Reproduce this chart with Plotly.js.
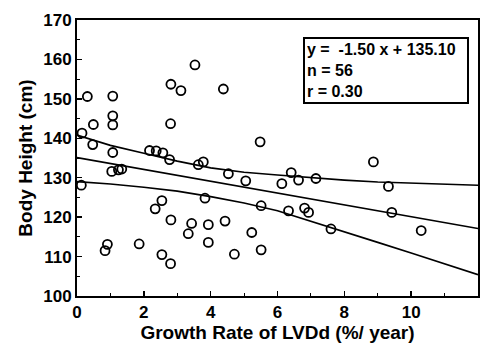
<!DOCTYPE html>
<html>
<head>
<meta charset="utf-8">
<script src="https://cdn.plot.ly/plotly-3.0.1.min.js"></script>
<style>html,body{margin:0;padding:0;background:#fff;}#chart{width:486px;height:349px;}</style>
</head>
<body>
<div id="chart"></div>
<script>
// Scatter data: growth rate of LVDd (%/year) vs body height (cm)
var growthRate = [0.13,0.15,0.31,0.49,0.47,1.07,1.07,1.07,1.07,3.53,2.81,3.11,2.80,2.17,2.37,2.57,2.77,1.04,1.24,3.83,3.63,3.78,2.54,2.34,2.81,3.43,3.33,3.93,3.93,0.91,0.84,1.86,2.54,2.80,4.53,5.05,6.13,6.41,6.63,7.15,5.51,6.33,6.81,6.93,7.60,4.43,5.23,4.71,5.51,4.38,5.48,8.87,9.32,9.42,10.30,1.34];
var bodyHeight = [128.1,141.3,150.6,143.5,138.4,150.7,145.7,143.4,136.4,158.6,153.7,152.1,143.7,136.9,136.8,136.3,134.6,131.6,132.0,124.8,133.3,134.0,124.2,122.1,119.3,118.4,115.8,118.1,113.6,113.1,111.5,113.2,110.5,108.2,131.0,129.2,128.5,131.3,129.4,129.8,122.9,121.6,122.3,121.2,117.0,119.0,116.1,110.6,111.7,152.5,139.1,134.0,127.8,121.2,116.6,132.2];

// Regression line endpoints (y = -1.50 x + 135.10)
var fitX = [0, 12];
var fitY = [135.1, 117.1];

// Confidence band curves
var bandX = [0,1,2,3,4,5,6,7,8,9,10,11,12];
var bandUpper = [140.8,138.2,136.2,134.2,132.5,131.4,130.7,130.0,129.4,128.9,128.6,128.3,128.1];
var bandLower = [129.0,128.4,127.6,126.6,125.2,123.6,121.6,119.0,116.3,113.6,110.9,108.2,105.4];

var xTicks = [0,2,4,6,8,10,12];
var yTicks = [100,110,120,130,140,150,160,170];
var statsLines = ['y =  -1.50 x + 135.10', 'n = 56', 'r = 0.30'];

var fontFam = 'Liberation Sans, Arial, Helvetica, sans-serif';
var lineStyle = {color: '#000', width: 1.6};

var traces = [
  {x: bandX, y: bandUpper, mode: 'lines', line: lineStyle, hoverinfo: 'skip', type: 'scatter'},
  {x: fitX, y: fitY, mode: 'lines', line: lineStyle, hoverinfo: 'skip', type: 'scatter'},
  {x: bandX, y: bandLower, mode: 'lines', line: lineStyle, hoverinfo: 'skip', type: 'scatter'},
  {x: growthRate, y: bodyHeight, mode: 'markers', type: 'scatter',
   marker: {symbol: 'circle-open', size: 9, color: '#000', line: {color: '#000', width: 1.8}}}
];

var layout = {
  width: 486, height: 349,
  margin: {l: 77, r: 8, t: 20, b: 53, pad: 0},
  paper_bgcolor: '#fff', plot_bgcolor: '#fff',
  showlegend: false,
  font: {family: fontFam, color: '#000', size: 15, weight: 'bold'},
  xaxis: {
    range: [0, 12], tickvals: xTicks, ticktext: xTicks.map(String),
    showgrid: false, zeroline: false, showline: true, mirror: true,
    linecolor: '#000', linewidth: 2,
    ticks: 'inside', ticklen: 5, tickwidth: 1.5, tickcolor: '#000',
    minor: {dtick: 1, ticks: 'inside', ticklen: 3, tickwidth: 1, tickcolor: '#000', showgrid: false},
    tickfont: {family: fontFam, size: 17, weight: 'bold', color: '#000'},
    title: {text: 'Growth Rate of LVDd (%/ year)', font: {family: fontFam, size: 19, weight: 'bold', color: '#000'}, standoff: 2}
  },
  yaxis: {
    range: [100, 170], tickvals: yTicks, ticktext: yTicks.map(String),
    showgrid: false, zeroline: false, showline: true, mirror: true,
    linecolor: '#000', linewidth: 2,
    ticks: 'inside', ticklen: 5, tickwidth: 1.5, tickcolor: '#000',
    minor: {dtick: 5, ticks: 'inside', ticklen: 3, tickwidth: 1, tickcolor: '#000', showgrid: false},
    tickfont: {family: fontFam, size: 17, weight: 'bold', color: '#000'},
    title: {text: 'Body Height (cm)', font: {family: fontFam, size: 19, weight: 'bold', color: '#000'}, standoff: 6}
  },
  annotations: [{
    xref: 'paper', yref: 'paper', x: 0.564, y: 0.938,
    xanchor: 'left', yanchor: 'top', align: 'left',
    text: statsLines.join('<br>'), showarrow: false,
    font: {family: fontFam, size: 16, weight: 'bold', color: '#000'},
    bordercolor: '#000', borderwidth: 2, borderpad: 2, bgcolor: '#fff',
    width: 158
  }]
};

Plotly.newPlot('chart', traces, layout, {displayModeBar: false, staticPlot: true});
</script>
</body>
</html>
